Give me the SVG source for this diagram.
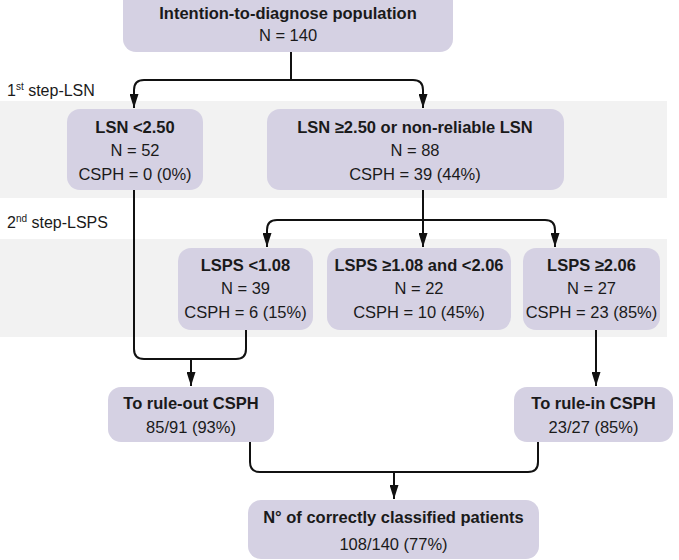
<svg xmlns="http://www.w3.org/2000/svg" width="679" height="560" viewBox="0 0 679 560">
<defs>
<style>
.band{fill:#f2f2f2}
.box{fill:#d5d1e3}
text{font-family:"Liberation Sans",Arial,sans-serif;font-size:16.5px;fill:#1a1a1a;text-anchor:middle}
.b{font-weight:bold}
.lbl{text-anchor:start;font-size:16px}
.c{fill:none;stroke:#111;stroke-width:2}
</style>
<marker id="ah" viewBox="0 0 14 9" refX="14" refY="4.5" markerWidth="14" markerHeight="9" markerUnits="userSpaceOnUse" orient="auto"><path d="M0,0 L14,4.5 L0,9 Z" fill="#111"/></marker>
</defs>
<rect width="679" height="560" fill="#fff"/>
<rect class="band" x="0" y="101" width="667" height="97"/>
<rect class="band" x="0" y="239" width="667" height="98"/>
<text class="lbl" x="7" y="96">1<tspan font-size="10" dy="-6">st</tspan><tspan dy="6"> step-LSN</tspan></text>
<text class="lbl" x="7" y="228">2<tspan font-size="10" dy="-6">nd</tspan><tspan dy="6"> step-LSPS</tspan></text>
<g id="connectors">
<path class="c" d="M291,52 V80"/>
<path class="c" d="M144,80 H413 Q423,80 423,90 V108" marker-end="url(#ah)"/>
<path class="c" d="M144,80 Q134,80 134,90 V108" marker-end="url(#ah)"/>
<path class="c" d="M423,190 V247" marker-end="url(#ah)"/>
<path class="c" d="M277,220 H545 Q555,220 555,230 V247" marker-end="url(#ah)"/>
<path class="c" d="M277,220 Q267,220 267,230 V247" marker-end="url(#ah)"/>
<path class="c" d="M134,190 V349 Q134,359 144,359 H236 Q246,359 246,349 V330"/>
<path class="c" d="M191,359 V386" marker-end="url(#ah)"/>
<path class="c" d="M596,330 V386" marker-end="url(#ah)"/>
<path class="c" d="M250,442 V462 Q250,472 260,472 H528 Q538,472 538,462 V442"/>
<path class="c" d="M394,472 V499" marker-end="url(#ah)"/>
</g>
<g id="n-top">
<rect class="box" x="123" y="-12" width="330" height="64" rx="13"/>
<text class="b" x="288" y="19">Intention-to-diagnose population</text>
<text x="288" y="41">N = 140</text>
</g>
<g id="n-lsn-low">
<rect class="box" x="67" y="109" width="136" height="81" rx="13"/>
<text class="b" x="135" y="133">LSN &lt;2.50</text>
<text x="135" y="156">N = 52</text>
<text x="135" y="180">CSPH = 0 (0%)</text>
</g>
<g id="n-lsn-high">
<rect class="box" x="267" y="109" width="297" height="81" rx="13"/>
<text class="b" x="415" y="133">LSN ≥2.50 or non-reliable LSN</text>
<text x="415" y="156">N = 88</text>
<text x="415" y="180">CSPH = 39 (44%)</text>
</g>
<g id="n-lsps-low">
<rect class="box" x="178" y="248" width="135" height="82" rx="13"/>
<text class="b" x="245.5" y="271">LSPS &lt;1.08</text>
<text x="245.5" y="294">N = 39</text>
<text x="245.5" y="318">CSPH = 6 (15%)</text>
</g>
<g id="n-lsps-mid">
<rect class="box" x="327" y="248" width="184" height="82" rx="13"/>
<text class="b" x="419" y="271">LSPS ≥1.08 and &lt;2.06</text>
<text x="419" y="294">N = 22</text>
<text x="419" y="318">CSPH = 10 (45%)</text>
</g>
<g id="n-lsps-high">
<rect class="box" x="523" y="248" width="137" height="82" rx="13"/>
<text class="b" x="591.5" y="271">LSPS ≥2.06</text>
<text x="591.5" y="294">N = 27</text>
<text x="591.5" y="318">CSPH = 23 (85%)</text>
</g>
<g id="n-ruleout">
<rect class="box" x="108" y="387" width="166" height="55" rx="13"/>
<text class="b" x="191" y="409">To rule-out CSPH</text>
<text x="191" y="433">85/91 (93%)</text>
</g>
<g id="n-rulein">
<rect class="box" x="514" y="387" width="159" height="55" rx="13"/>
<text class="b" x="593.5" y="409">To rule-in CSPH</text>
<text x="593.5" y="433">23/27 (85%)</text>
</g>
<g id="n-total">
<rect class="box" x="248" y="500" width="291" height="59" rx="13"/>
<text class="b" x="393.5" y="523">N° of correctly classified patients</text>
<text x="393.5" y="550">108/140 (77%)</text>
</g>
</svg>
